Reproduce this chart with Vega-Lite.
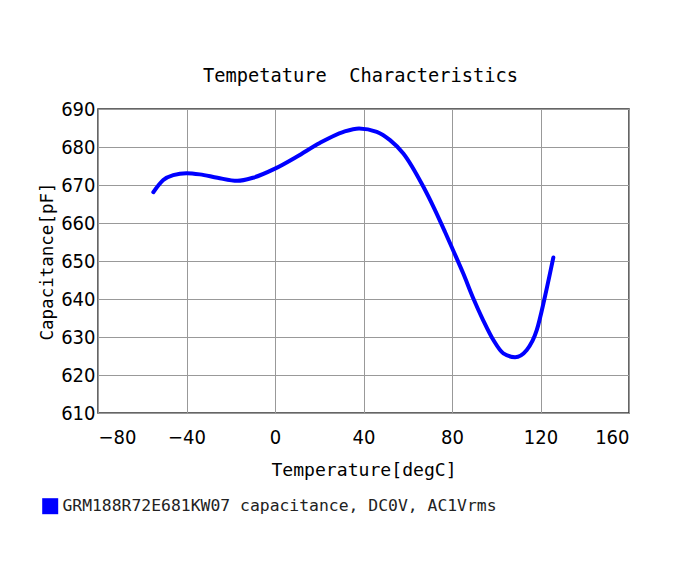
{
  "$schema": "https://vega.github.io/schema/vega-lite/v6.json",
  "width": 531,
  "height": 304,
  "autosize": {"type": "none"},
  "padding": {"left": 98, "top": 109, "right": 61, "bottom": 149},
  "background": "white",
  "title": {
    "text": "Tempetature\u00a0\u00a0Characteristics",
    "font": "DejaVu Sans Mono",
    "fontSize": 18.7,
    "fontWeight": "normal",
    "color": "#000",
    "offset": 13,
    "dx": -3
  },
  "data": {
    "values": [
      {"t": -55, "c": 668.1, "s": "GRM188R72E681KW07 capacitance, DC0V, AC1Vrms"},
      {"t": -50.5, "c": 671.3, "s": "GRM188R72E681KW07 capacitance, DC0V, AC1Vrms"},
      {"t": -46, "c": 672.6, "s": "GRM188R72E681KW07 capacitance, DC0V, AC1Vrms"},
      {"t": -40, "c": 673.1, "s": "GRM188R72E681KW07 capacitance, DC0V, AC1Vrms"},
      {"t": -34, "c": 672.8, "s": "GRM188R72E681KW07 capacitance, DC0V, AC1Vrms"},
      {"t": -26, "c": 671.9, "s": "GRM188R72E681KW07 capacitance, DC0V, AC1Vrms"},
      {"t": -17, "c": 671.1, "s": "GRM188R72E681KW07 capacitance, DC0V, AC1Vrms"},
      {"t": -10, "c": 671.9, "s": "GRM188R72E681KW07 capacitance, DC0V, AC1Vrms"},
      {"t": 0, "c": 674.3, "s": "GRM188R72E681KW07 capacitance, DC0V, AC1Vrms"},
      {"t": 10, "c": 677.5, "s": "GRM188R72E681KW07 capacitance, DC0V, AC1Vrms"},
      {"t": 20, "c": 681.0, "s": "GRM188R72E681KW07 capacitance, DC0V, AC1Vrms"},
      {"t": 31, "c": 684.0, "s": "GRM188R72E681KW07 capacitance, DC0V, AC1Vrms"},
      {"t": 38, "c": 684.9, "s": "GRM188R72E681KW07 capacitance, DC0V, AC1Vrms"},
      {"t": 46, "c": 684.0, "s": "GRM188R72E681KW07 capacitance, DC0V, AC1Vrms"},
      {"t": 52, "c": 681.8, "s": "GRM188R72E681KW07 capacitance, DC0V, AC1Vrms"},
      {"t": 58, "c": 678.3, "s": "GRM188R72E681KW07 capacitance, DC0V, AC1Vrms"},
      {"t": 67, "c": 669.6, "s": "GRM188R72E681KW07 capacitance, DC0V, AC1Vrms"},
      {"t": 72, "c": 663.8, "s": "GRM188R72E681KW07 capacitance, DC0V, AC1Vrms"},
      {"t": 76.8, "c": 657.7, "s": "GRM188R72E681KW07 capacitance, DC0V, AC1Vrms"},
      {"t": 80.3, "c": 653.1, "s": "GRM188R72E681KW07 capacitance, DC0V, AC1Vrms"},
      {"t": 85.1, "c": 646.7, "s": "GRM188R72E681KW07 capacitance, DC0V, AC1Vrms"},
      {"t": 89.6, "c": 640.2, "s": "GRM188R72E681KW07 capacitance, DC0V, AC1Vrms"},
      {"t": 94.1, "c": 634.4, "s": "GRM188R72E681KW07 capacitance, DC0V, AC1Vrms"},
      {"t": 98.7, "c": 629.2, "s": "GRM188R72E681KW07 capacitance, DC0V, AC1Vrms"},
      {"t": 103.2, "c": 625.7, "s": "GRM188R72E681KW07 capacitance, DC0V, AC1Vrms"},
      {"t": 108.5, "c": 624.7, "s": "GRM188R72E681KW07 capacitance, DC0V, AC1Vrms"},
      {"t": 113.8, "c": 626.6, "s": "GRM188R72E681KW07 capacitance, DC0V, AC1Vrms"},
      {"t": 118.3, "c": 631.8, "s": "GRM188R72E681KW07 capacitance, DC0V, AC1Vrms"},
      {"t": 122, "c": 640.6, "s": "GRM188R72E681KW07 capacitance, DC0V, AC1Vrms"},
      {"t": 125.8, "c": 650.9, "s": "GRM188R72E681KW07 capacitance, DC0V, AC1Vrms"}
    ]
  },
  "mark": {"type": "line", "strokeWidth": 4, "interpolate": "monotone", "strokeCap": "round"},
  "encoding": {
    "x": {
      "field": "t", "type": "quantitative",
      "scale": {"domain": [-80, 160], "nice": false, "zero": false},
      "axis": {
        "values": [-80, -40, 0, 40, 80, 120, 160],
        "title": "Temperature[degC]",
        "titleFontSize": 18.1,
        "ticks": false, "labelPadding": 14, "titlePadding": 14
      }
    },
    "y": {
      "field": "c", "type": "quantitative",
      "scale": {"domain": [610, 690], "nice": false, "zero": false},
      "axis": {
        "values": [610, 620, 630, 640, 650, 660, 670, 680, 690],
        "title": "Capacitance[pF]",
        "titleFontSize": 17.5,
        "ticks": false, "labelPadding": 3, "titlePadding": 4
      }
    },
    "color": {
      "field": "s", "type": "nominal",
      "scale": {"range": ["#0000ff"]},
      "legend": {
        "title": null,
        "orient": "none",
        "legendX": -56,
        "legendY": 389,
        "symbolType": "square",
        "symbolSize": 256,
        "symbolFillColor": "#0000ff",
        "symbolStrokeWidth": 0,
        "labelFont": "DejaVu Sans Mono",
        "labelFontSize": 16.4,
        "labelColor": "#222",
        "labelLimit": 0,
        "labelOffset": 4
      }
    }
  },
  "config": {
    "view": {"stroke": "#333", "strokeWidth": 1.5},
    "axis": {
      "grid": true,
      "gridColor": "#999",
      "gridOpacity": 1,
      "gridWidth": 1,
      "domain": false,
      "labelFont": "DejaVu Sans Condensed, DejaVu Sans Mono",
      "labelFontSize": 20,
      "labelColor": "#000",
      "titleFont": "DejaVu Sans Mono",
      "titleFontSize": 18.7,
      "titleFontWeight": "normal",
      "titleColor": "#000"
    }
  }
}
